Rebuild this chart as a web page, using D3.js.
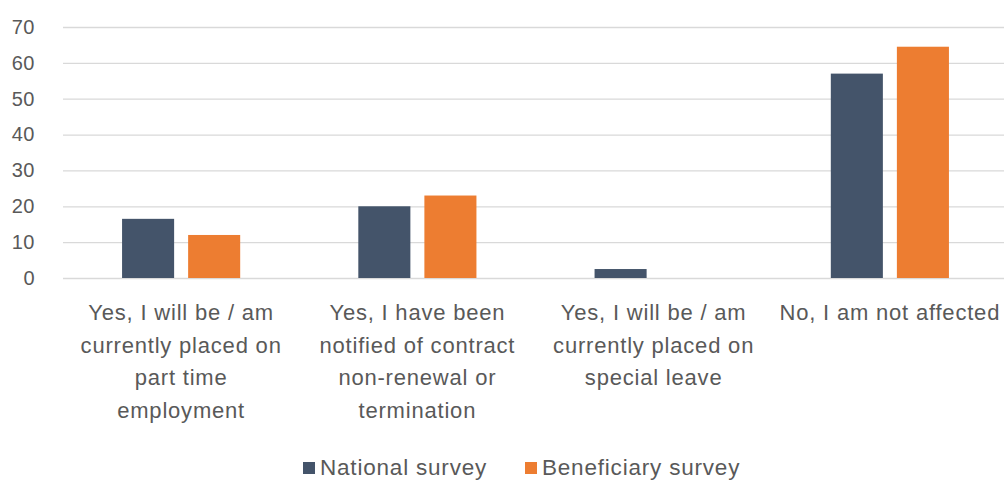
<!DOCTYPE html>
<html>
<head>
<meta charset="utf-8">
<script src="https://cdn.jsdelivr.net/npm/d3@7"></script>
<style>
  html, body { margin: 0; padding: 0; background: #ffffff; }
  svg { display: block; }
  text { font-family: "Liberation Sans", Arial, sans-serif; fill: #595959; }
</style>
</head>
<body>
<svg id="chart" width="1004" height="481"></svg>
<script>
// Survey responses (%), one value per category for each survey
const categories = [
  "Yes, I will be / am currently placed on part time employment",
  "Yes, I have been notified of contract non-renewal or termination",
  "Yes, I will be / am currently placed on special leave",
  "No, I am not affected"
];
const categoryLines = [
  ["Yes, I will be / am", "currently placed on", "part time", "employment"],
  ["Yes, I have been", "notified of contract", "non-renewal or", "termination"],
  ["Yes, I will be / am", "currently placed on", "special leave"],
  ["No, I am not affected"]
];
const seriesNames = ["National survey", "Beneficiary survey"];
const nationalValues = [16.5, 20, 2.5, 57];
const beneficiaryValues = [12, 23, 0, 64.5];
const yTicks = [0, 10, 20, 30, 40, 50, 60, 70];
const seriesColors = ["#44546A", "#ED7D31"];

const svg = d3.select("#chart");
const W = 1004, H = 481;
svg.append("rect").attr("width", W).attr("height", H).attr("fill", "#ffffff");

const plot = { left: 63, right: 1008, top: 27, bottom: 278 };

const x0 = d3.scaleBand().domain(categories).range([plot.left, plot.right]).paddingInner(0).paddingOuter(0);
const x1 = d3.scaleBand().domain(seriesNames).range([0, x0.bandwidth()]).paddingInner(0.212).paddingOuter(0.894);
const y = d3.scaleLinear().domain([0, 70]).range([plot.bottom, plot.top]);
const color = d3.scaleOrdinal().domain(seriesNames).range(seriesColors);

// Horizontal gridlines and value labels
const yAxis = d3.axisLeft(y).tickValues(yTicks).tickSize(-(plot.right - plot.left)).tickPadding(28).tickFormat(d3.format("d"));
const gy = svg.append("g").attr("transform", `translate(${plot.left},0)`).call(yAxis);
gy.select(".domain").remove();
gy.selectAll(".tick line").attr("stroke", "#d9d9d9").attr("stroke-width", 1.3);
gy.selectAll(".tick text").attr("font-size", 20).style("fill", "#595959")
  .style("font-family", "\"Liberation Sans\", Arial, sans-serif")
  .style("letter-spacing", "0.5px");

// Bars
const rows = categories.map((c, i) => ({
  category: c,
  values: [
    { series: seriesNames[0], value: nationalValues[i] },
    { series: seriesNames[1], value: beneficiaryValues[i] }
  ]
}));

const groups = svg.append("g").selectAll("g").data(rows).join("g")
  .attr("transform", d => `translate(${x0(d.category)},0)`);
groups.selectAll("rect").data(d => d.values.filter(v => v.value > 0)).join("rect")
  .attr("x", d => x1(d.series))
  .attr("width", x1.bandwidth())
  .attr("y", d => y(d.value))
  .attr("height", d => y(0) - y(d.value))
  .attr("fill", d => color(d.series));

// Category labels, centred under each group
const labels = svg.append("g").selectAll("text").data(categories).join("text")
  .attr("text-anchor", "middle")
  .attr("font-size", 22)
  .style("letter-spacing", "0.8px")
  .attr("x", d => x0(d) + x0.bandwidth() / 2)
  .attr("y", 320);
labels.each(function(d, i) {
  d3.select(this).selectAll("tspan").data(categoryLines[i]).join("tspan")
    .attr("x", x0(d) + x0.bandwidth() / 2)
    .attr("dy", (t, j) => j === 0 ? 0 : 32.5)
    .text(t => t);
});

// Legend
const legendItems = [
  { name: seriesNames[0], x: 303 },
  { name: seriesNames[1], x: 525 }
];
const lg = svg.append("g").selectAll("g").data(legendItems).join("g")
  .attr("transform", d => `translate(${d.x},462)`);
lg.append("rect").attr("width", 12).attr("height", 12).attr("fill", d => color(d.name));
lg.append("text").attr("x", 17).attr("y", 13).attr("font-size", 22.5)
  .style("letter-spacing", "0.8px").text(d => d.name);
</script>
</body>
</html>
